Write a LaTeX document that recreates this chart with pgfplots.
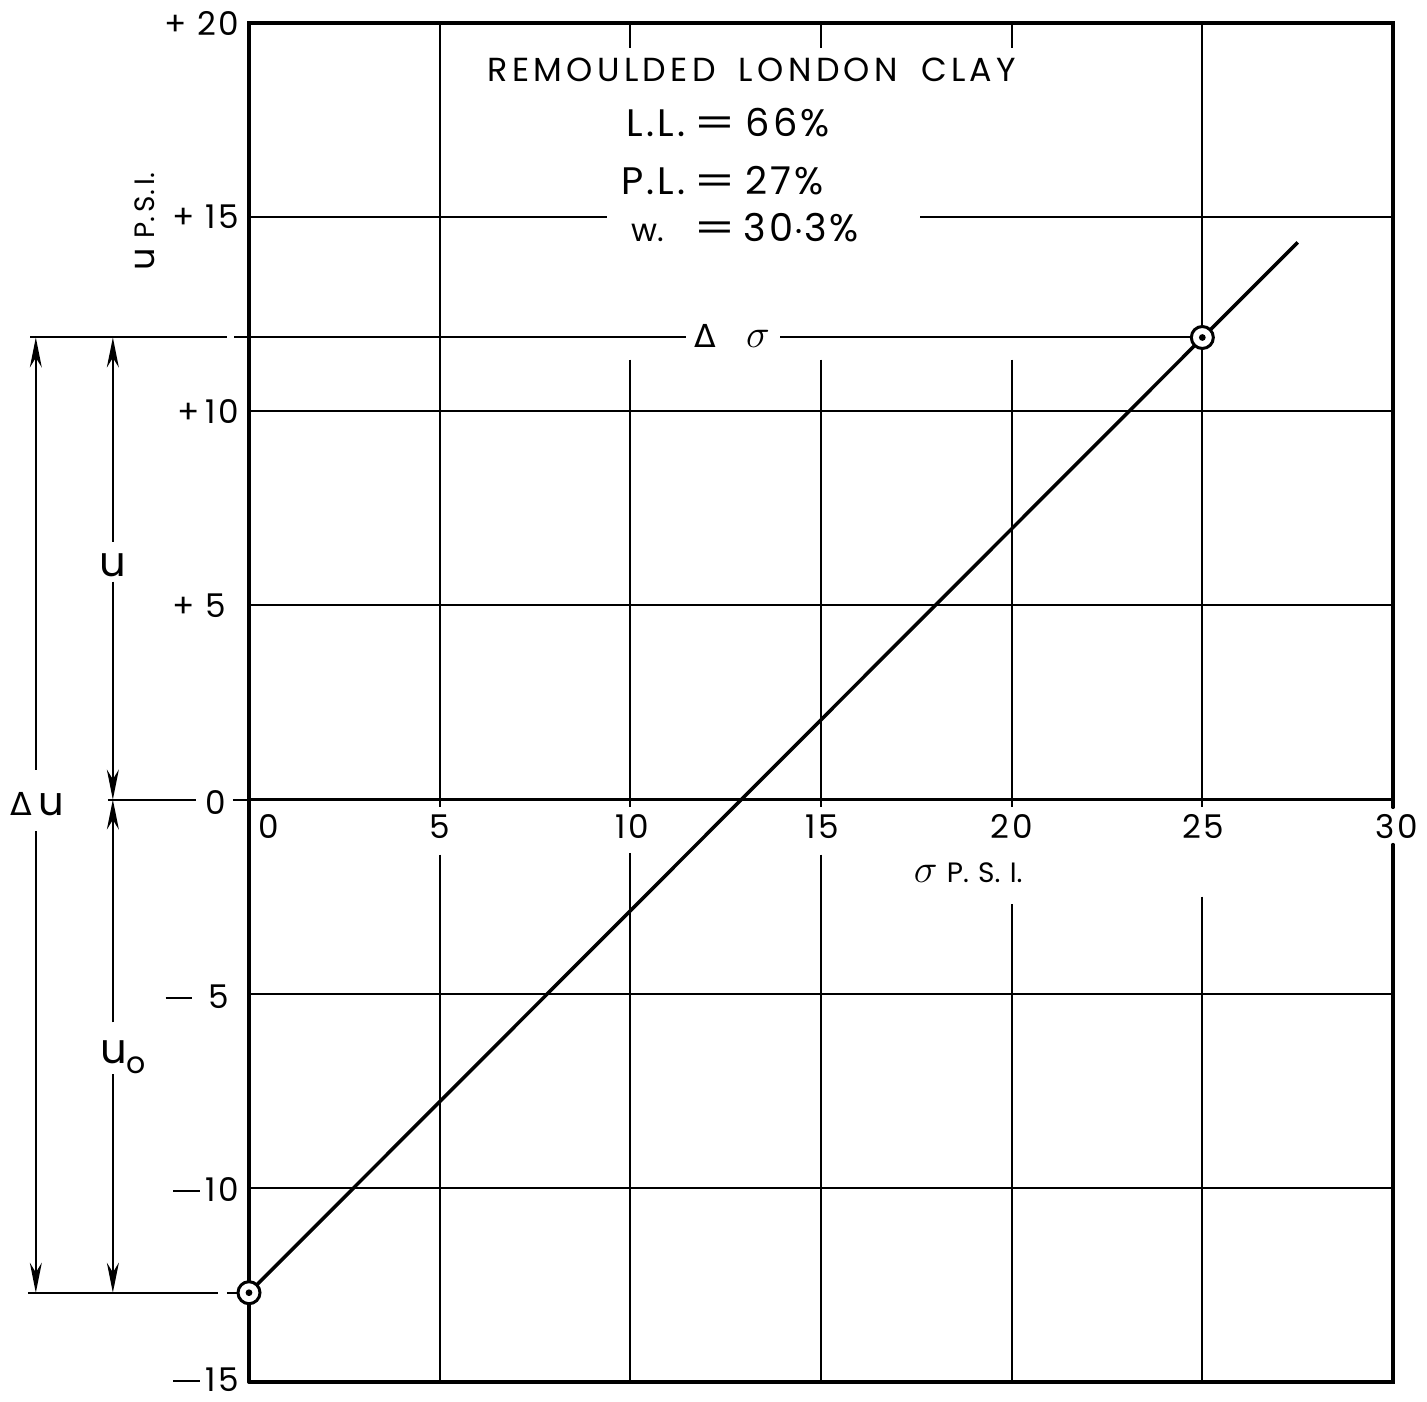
\documentclass[border=0pt]{standalone}
\usepackage{fontspec}
\setmainfont{Poppins}
\newfontfamily\greekfont{DejaVu Sans}
\usepackage{pgfplots}
\pgfplotsset{compat=1.18}
\usetikzlibrary{arrows.meta}
\newcommand{\mns}{\rule[2.9pt]{8pt}{0.6pt}}
\newcommand{\eqs}{\scalebox{1.55}[1]{=}}

\begin{document}
\begin{tikzpicture}[
  heavy/.style={line width=1.05pt, line cap=round},
  grid/.style={line width=0.6pt},
  dim/.style={line width=0.6pt},
  arr/.style={dim, -{Stealth[length=9pt,width=3.6pt]}},
  ticklab/.style={font=\fontsize{9.8}{11}\selectfont\addfontfeatures{LetterSpace=8}, inner sep=0pt},
  lab/.style={font=\fontsize{8.4}{10}\selectfont, inner sep=0pt},
  big/.style={font=\fontsize{11.5}{13}\selectfont\addfontfeatures{LetterSpace=8}, inner sep=0pt,
    text height=8pt, text depth=0pt},
]
\begin{axis}[
  hide axis, clip=false, scale only axis,
  width=343.2pt, height=407.7pt,
  xmin=0, xmax=30, ymin=-15, ymax=20,
]
% --- grid, drawn as segments so that labels sit in clear gaps
\draw[grid] (5,20) -- (5,-0.2);   \draw[grid] (5,-1.42) -- (5,-15);
\draw[grid] (10,20) -- (10,19.35); \draw[grid] (10,11.33) -- (10,-0.2); \draw[grid] (10,-1.37) -- (10,-15);
\draw[grid] (15,20) -- (15,19.35); \draw[grid] (15,11.33) -- (15,-0.2); \draw[grid] (15,-1.42) -- (15,-15);
\draw[grid] (20,20) -- (20,19.35); \draw[grid] (20,11.33) -- (20,-0.2); \draw[grid] (20,-2.70) -- (20,-15);
\draw[grid] (25,20) -- (25,-0.2);  \draw[grid] (25,-2.50) -- (25,-15);
\draw[grid] (0,15) -- (9.39,15);   \draw[grid] (17.6,15) -- (30,15);
\draw[grid] (0,10) -- (30,10);
\draw[grid] (0,5) -- (30,5);
\draw[grid] (0,-5) -- (30,-5);
\draw[grid] (0,-10) -- (30,-10);
% --- frame and zero line
\draw[heavy] (0,-15) -- (0,20) -- (30,20) -- (30,-0.2);
\draw[heavy] (30,-1.16) -- (30,-15) -- (0,-15);
\draw[heavy] (0,0) -- (30,0);
% --- reference levels carried out to the dimension lines
\draw[dim] (-3.7,0) -- (-1.39,0);  \draw[dim] (-0.42,0) -- (0,0);
\draw[dim] (-5.74,11.9) -- (-0.58,11.9); \draw[dim] (-0.39,11.9) -- (11.46,11.9);
\draw[dim] (13.93,11.9) -- (25,11.9);
\draw[dim] (-5.8,-12.7) -- (-0.81,-12.7); \draw[dim] (-0.58,-12.7) -- (0,-12.7);
% --- dimension arrows
\draw[arr] (-5.59,0.77) -- (-5.59,11.9);
\draw[arr] (-5.59,-0.82) -- (-5.59,-12.7);
\draw[arr] (-3.57,6.64) -- (-3.57,11.9);
\draw[arr] (-3.57,5.61) -- (-3.57,0);
\draw[arr] (-3.57,-5.74) -- (-3.57,0);
\draw[arr] (-3.57,-7.08) -- (-3.57,-12.7);
\node[font=\fontsize{12}{14}\selectfont, inner sep=0pt] at (-5.56,-0.13) {{\greekfont\fontsize{9.5}{11}\selectfont Δ}\,u};
\node[font=\fontsize{12.5}{14}\selectfont, inner sep=0pt] at (-3.57,6.03) {u};
\node[font=\fontsize{12.5}{14}\selectfont, inner sep=0pt] at (-3.3,-6.64) {u\raisebox{-0.45ex}{\fontsize{9}{10}\selectfont o}};
% --- tick labels
\node[ticklab, anchor=east] at (-0.24,20) {+\,\,20};
\node[ticklab, anchor=east] at (-0.24,15) {+\,\,15};
\node[ticklab, anchor=east] at (-0.24,10) {+\,10};
\node[ticklab, anchor=east] at (-0.58,5) {+\,\,5};
\node[ticklab] at (-0.87,-0.08) {0};
\node[ticklab, anchor=east] at (-0.5,-5.07) {\mns\,\,\,5};
\node[ticklab, anchor=east] at (-0.24,-10.04) {\mns\,10};
\node[ticklab, anchor=east] at (-0.24,-14.95) {\mns\,15};
\node[ticklab] at (0.52,-0.7) {0};
\node[ticklab] at (5.01,-0.7) {5};
\node[ticklab] at (10.04,-0.7) {10};
\node[ticklab] at (15.03,-0.7) {15};
\node[ticklab] at (20,-0.7) {20};
\node[ticklab] at (25.02,-0.7) {25};
\node[ticklab] at (30.1,-0.7) {30};
% --- axis titles
\node[lab] at (18.86,-1.88) {{\fontsize{12}{13}\selectfont$\sigma$}\,\,P.\,\,S.\,\,I.};
\node[lab, rotate=90] at (-2.73,14.89) {{\fontsize{10.5}{12}\selectfont u}\,\,P.\,S.\,I.};
% --- description
\node[font=\fontsize{10}{12}\selectfont\addfontfeatures{LetterSpace=13}, inner sep=0pt, anchor=base] at (13.19,18.49) {REMOULDED\hspace{3pt} LONDON\hspace{3pt} CLAY};
\node[big, anchor=base east] at (11.46,17.07) {L.L.};
\node[big, anchor=base] at (12.22,17.07) {\eqs};
\node[big, anchor=base west] at (13.01,17.07) {66\%};
\node[big, anchor=base east] at (11.46,15.58) {P.L.};
\node[big, anchor=base] at (12.22,15.58) {\eqs};
\node[big, anchor=base west] at (13.01,15.58) {27\%};
\node[big, anchor=base east, font=\fontsize{9.5}{10}\selectfont] at (10.91,14.37) {w.};
\node[big, anchor=base] at (12.22,14.37) {\eqs};
\node[big, anchor=base west] at (12.95,14.37) {30$\cdot$3\%};
\node[inner sep=0pt, font=\fontsize{12}{14}\selectfont] at (12.67,11.95) {{\greekfont\fontsize{9.5}{10}\selectfont Δ}\hspace{9pt}$\sigma$};
% --- measured relation and the two observed points
\addplot[line width=1.05pt] coordinates {(0,-12.7) (27.5,14.35)};
\addplot[only marks, mark=*, mark size=3.3pt,
  mark options={fill=white, draw=black, line width=0.9pt}]
  coordinates {(0,-12.7) (25,11.9)};
\addplot[only marks, mark=*, mark size=0.8pt, mark options={fill=black, draw=black}]
  coordinates {(0,-12.7) (25,11.9)};
\end{axis}
\pgfresetboundingbox
\useasboundingbox (-74.7pt,-5.7pt) rectangle (353.4pt,414.6pt);
\end{tikzpicture}
\end{document}
